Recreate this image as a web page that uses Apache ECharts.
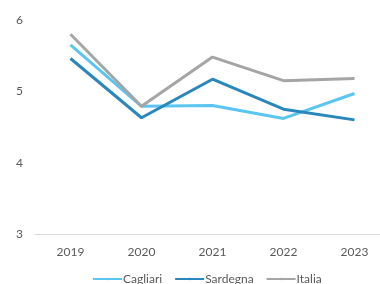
<!DOCTYPE html>
<html><head><meta charset="utf-8">
<script src="https://cdn.jsdelivr.net/npm/echarts@6/dist/echarts.min.js"></script>
<style>html,body{margin:0;padding:0;background:#fff}#c{width:380px;height:284px}</style>
</head><body><div id="c"></div>
<script>
const years = ['2019','2020','2021','2022','2023'];
const cagliari = [5.65, 4.79, 4.80, 4.62, 4.97];
const sardegna = [5.46, 4.63, 5.17, 4.75, 4.60];
const italia = [5.80, 4.79, 5.48, 5.15, 5.18];
const chart = echarts.init(document.getElementById('c'));
const font = 'Lato';
function s(name, data, color){
  return {name, type:'line', data, symbol:'none', smooth:false,
    lineStyle:{width:3, color}, itemStyle:{color}};
}
chart.setOption({
  animation:false,
  textStyle:{fontFamily:font},
  grid:{left:35, width:355, top:20, bottom:50, outerBoundsMode:'none', containLabel:false},
  legend:{bottom:-6, left:87, itemWidth:29, itemHeight:3, itemGap:12,
    textStyle:{fontFamily:font, fontSize:12, color:'#595959', padding:[0,0,0,-4]},
    data:['Cagliari','Sardegna','Italia']},
  xAxis:{type:'category', data:years, boundaryGap:true,
    axisLine:{lineStyle:{color:'#d9d9d9', width:1}}, axisTick:{show:false},
    axisLabel:{fontFamily:font, fontSize:12, color:'#595959', margin:12}},
  yAxis:{type:'value', min:3, max:6, interval:1,
    axisLine:{show:false}, axisTick:{show:false}, splitLine:{show:false},
    axisLabel:{fontFamily:font, fontSize:12, color:'#595959', margin:12}},
  series:[s('Cagliari', cagliari, '#5bc5f1'), s('Sardegna', sardegna, '#2a87bb'), s('Italia', italia, '#a5a5a5')]
});
</script></body></html>
